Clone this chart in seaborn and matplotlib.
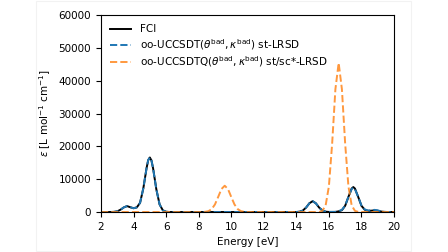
import numpy as np
import pandas as pd
import seaborn as sns
import matplotlib.pyplot as plt
from matplotlib.patches import Rectangle

# spectra (energy in eV, epsilon in L mol^-1 cm^-1)
fci_e = [2.0, 2.6, 2.8, 3.0, 3.2, 3.4, 3.6, 3.8, 4.0, 4.2, 4.4, 4.6, 4.8, 4.9, 5.0,
         5.1, 5.2, 5.4, 5.6, 5.8, 6.0, 6.2, 14.0, 14.2, 14.4, 14.6, 14.8, 15.0, 15.2,
         15.4, 15.6, 15.8, 16.0, 16.4, 16.6, 16.8, 17.0, 17.2, 17.4, 17.5, 17.6, 17.8,
         18.0, 18.2, 18.4, 18.6, 18.8, 19.0, 19.2, 19.4, 19.6, 20.0]
fci_eps = [0, 0, 40, 200, 700, 1400, 1800, 1450, 1150, 1400, 2800, 7200, 13400, 15800, 16600,
           15700, 13300, 6900, 2300, 500, 70, 0, 0, 80, 450, 1350, 2650, 3300, 2650,
           1350, 450, 100, 20, 30, 200, 550, 1900, 4600, 7150, 7600, 7150, 4600,
           1900, 700, 350, 400, 500, 380, 150, 30, 0, 0]

sdt_e = fci_e
sdt_eps = [0, 0, 40, 200, 700, 1400, 1800, 1450, 1150, 1400, 2800, 7200, 13400, 15800, 16600,
           15700, 13300, 6900, 2300, 500, 70, 0, 0, 80, 450, 1350, 2650, 3300, 2650,
           1350, 450, 100, 20, 30, 250, 650, 2000, 4600, 7000, 7400, 7000, 4600,
           2000, 800, 450, 500, 650, 500, 200, 40, 0, 0]

sdtq_e = [2.0, 8.2, 8.4, 8.6, 8.8, 9.0, 9.2, 9.4, 9.6, 9.8, 10.0, 10.2, 10.4, 10.6, 10.8,
          11.0, 15.4, 15.6, 15.8, 16.0, 16.2, 16.4, 16.6, 16.8, 17.0, 17.2, 17.4, 17.6,
          17.8, 18.0, 20.0]
sdtq_eps = [0, 0, 60, 250, 870, 2300, 4600, 7000, 8000, 7000, 4600, 2300, 870, 250, 50,
            0, 0, 350, 2000, 7800, 20800, 37400, 45400, 37400, 20800, 7800, 2000, 350,
            40, 0, 0]

lbl_fci = "FCI"
lbl_sdt = r"oo-UCCSDT($\theta^{\mathrm{bad}}, \kappa^{\mathrm{bad}}$) st-LRSD"
lbl_sdtq = r"oo-UCCSDTQ($\theta^{\mathrm{bad}}, \kappa^{\mathrm{bad}}$) st/sc*-LRSD"

plt.rcParams['font.size'] = 7.5

fig = plt.figure(figsize=(4.48, 2.52), dpi=100)
fig.patches.append(Rectangle((36 / 448, 1 / 252), 375 / 448, 250 / 252,
                             transform=fig.transFigure, fill=False,
                             edgecolor='#f2f2f2', linewidth=0.8))
ax = fig.add_axes([101 / 448, 40 / 252, 293 / 448, 197 / 252])

sns.lineplot(x=fci_e, y=fci_eps, ax=ax, color='black', linewidth=1.4, label=lbl_fci)
sns.lineplot(x=sdt_e, y=sdt_eps, ax=ax, color='#1f77b4', linewidth=1.4,
             linestyle='--', label=lbl_sdt)
sns.lineplot(x=sdtq_e, y=sdtq_eps, ax=ax, color='#ff7f0e', linewidth=1.4,
             linestyle='--', alpha=0.8, label=lbl_sdtq)

ax.set_xlim(2, 20)
ax.set_ylim(0, 60000)
ax.set_xticks(np.arange(2, 21, 2))
ax.set_yticks(np.arange(0, 60001, 10000))
ax.set_xlabel("Energy [eV]")
ax.set_ylabel(r"$\epsilon$ [L mol$^{-1}$ cm$^{-1}$]")
ax.legend(loc='upper left', frameon=False, labelspacing=0.25)

fig.savefig("out.png", dpi=100)
